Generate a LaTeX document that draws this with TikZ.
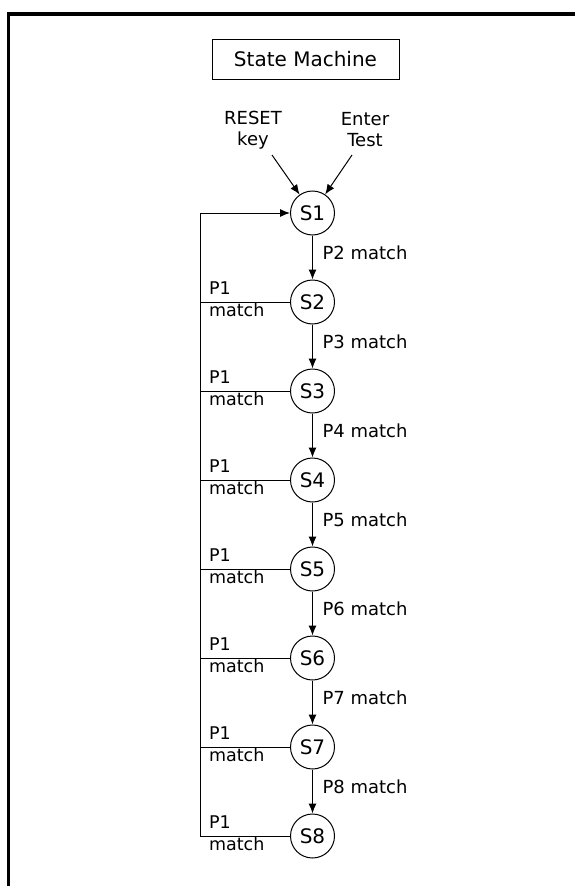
\documentclass[tikz,border=0pt]{standalone}
\usepackage{fontspec}
\setmainfont{DejaVu Sans}
\usetikzlibrary{automata,positioning,arrows.meta}

\tikzset{
  lbl/.style={font=\fontsize{18}{21}\selectfont},
  p1 top/.style={font=\fontsize{17.5}{21}\selectfont, inner sep=0pt, anchor=base west, xshift=8.5pt, yshift=7.5pt},
  p1 bottom/.style={font=\fontsize{17.5}{21}\selectfont, inner sep=0pt, anchor=base west, xshift=8.5pt, yshift=-14.5pt}
}

\begin{document}
\begin{tikzpicture}[x=1pt, y=-1pt, node distance=89pt, on grid, auto,
  >={Latex[length=10pt,width=8pt]}, line width=1pt,
  every state/.style={draw, minimum size=44pt, inner sep=0pt, font=\fontsize{20}{24}\selectfont}]
\useasboundingbox (0,0) rectangle (575,886);
% open frame
\draw [line width=3.5pt] (575,14) -- (8.5,14) -- (8.5,886);

\node [draw, line width=1pt, minimum width=187pt, minimum height=40pt,
  font=\fontsize{20}{24}\selectfont] (title) at (305.5,59) {State Machine};

\node [lbl, align=center] (reset) at (253,130) {RESET\\key};
\node [lbl, align=center] (enter) at (365,130) {Enter\\Test};

\node [state] (s1) at (312.5,213) {S1};
\node [state] (s2) [below = of s1] {S2};
\node [state] (s3) [below = of s2] {S3};
\node [state] (s4) [below = of s3] {S4};
\node [state] (s5) [below = of s4] {S5};
\node [state] (s6) [below = of s5] {S6};
\node [state] (s7) [below = of s6] {S7};
\node [state] (s8) [below = of s7] {S8};

\coordinate (resetin) at (272,155);
\coordinate (enterin) at (352,155);
\coordinate (back) at (200,213);

\path [->]
(resetin) edge (s1)
(enterin) edge (s1)
(s1) edge node [lbl, inner xsep=9.5pt, pos=0.4] (l2) {P2 match} (s2)
(s2) edge node [lbl, inner xsep=9.5pt, pos=0.4] (l3) {P3 match} (s3)
(s3) edge node [lbl, inner xsep=9.5pt, pos=0.4] (l4) {P4 match} (s4)
(s4) edge node [lbl, inner xsep=9.5pt, pos=0.4] (l5) {P5 match} (s5)
(s5) edge node [lbl, inner xsep=9.5pt, pos=0.4] (l6) {P6 match} (s6)
(s6) edge node [lbl, inner xsep=9.5pt, pos=0.4] (l7) {P7 match} (s7)
(s7) edge node [lbl, inner xsep=9.5pt, pos=0.4] (l8) {P8 match} (s8);

% back to S1 on P1 match
\draw [->] (s8) -| (back) -- (s1);
\path (s8 -| back) node [p1 top] (p8) {P1} node [p1 bottom] (m8) {match};
\draw (s2) -- (s2 -| back) node [p1 top] (p2) {P1} node [p1 bottom] (m2) {match};
\draw (s3) -- (s3 -| back) node [p1 top] (p3) {P1} node [p1 bottom] (m3) {match};
\draw (s4) -- (s4 -| back) node [p1 top] (p4) {P1} node [p1 bottom] (m4) {match};
\draw (s5) -- (s5 -| back) node [p1 top] (p5) {P1} node [p1 bottom] (m5) {match};
\draw (s6) -- (s6 -| back) node [p1 top] (p6) {P1} node [p1 bottom] (m6) {match};
\draw (s7) -- (s7 -| back) node [p1 top] (p7) {P1} node [p1 bottom] (m7) {match};
\end{tikzpicture}
\end{document}
